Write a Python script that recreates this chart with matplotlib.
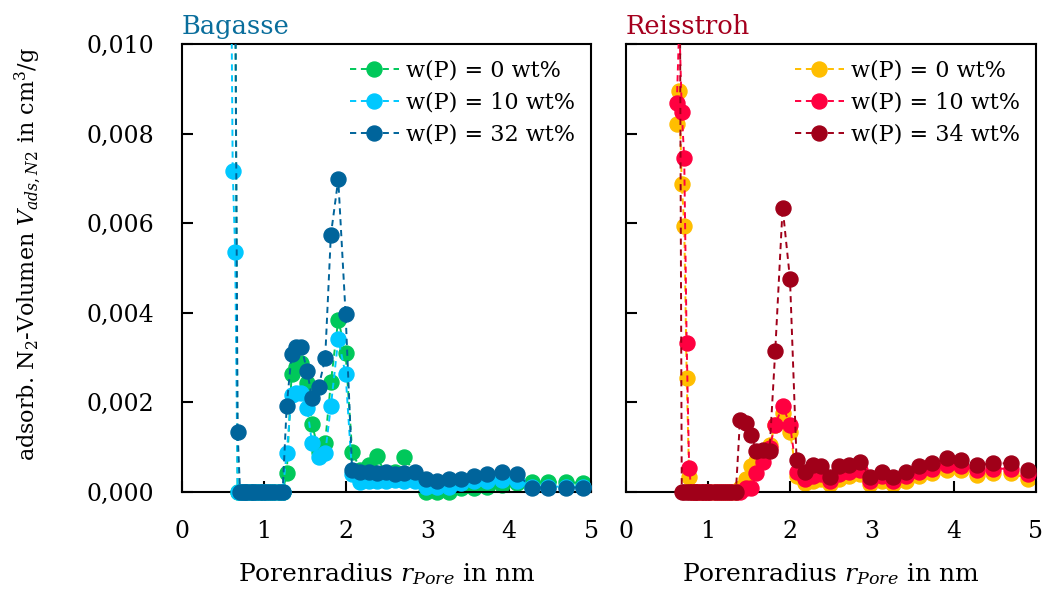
import numpy as np
import matplotlib
matplotlib.use("Agg")
import matplotlib.pyplot as plt
from matplotlib.ticker import FuncFormatter, MultipleLocator
from matplotlib.lines import Line2D

plt.rcParams['font.family'] = ['DejaVu Serif']
plt.rcParams['mathtext.fontset'] = 'dejavuserif'

# pore radius grid (nm)
r_pore = [0.60, 0.62, 0.65, 0.68, 0.71, 0.74, 0.77, 0.80, 0.84, 0.87,
          0.91, 0.95, 0.99, 1.03, 1.08, 1.13, 1.18, 1.23, 1.28, 1.34,
          1.39, 1.46, 1.53, 1.59, 1.67, 1.75, 1.82, 1.91, 2.00, 2.08,
          2.18, 2.28, 2.38, 2.49, 2.60, 2.72, 2.85, 2.98, 3.12, 3.26,
          3.41, 3.57, 3.73, 3.91, 4.09, 4.28, 4.48, 4.69, 4.90, 5.12]

# Bagasse
bag_0 = [None, None, 0.0120, 0, 0, 0, 0, 0, 0, 0,
         0, 0, 0, 0, 0, 0, 0, 0, 0.00042, 0.00263,
         0.00280, 0.00287, 0.00243, 0.00152, 0.00090, 0.00110, 0.00245, 0.00385, 0.00311, 0.00090,
         0.00050, 0.00060, 0.00080, 0.00040, 0.00045, 0.00078, 0.00040, 0.0, 0.0, 0.0,
         0.00010, 0.00010, 0.00012, 0.00015, 0.00020, 0.00022, 0.00022, 0.00022, 0.00020, 0.00020]
bag_10 = [0.0120, 0.00717, 0.00536, 0, 0, 0, 0, 0, 0, 0,
          0, 0, 0, 0, 0, 0, 0, 0, 0.00088, 0.00217,
          0.00220, 0.00220, 0.00187, 0.00109, 0.00079, 0.00086, 0.00192, 0.00341, 0.00263, 0.00040,
          0.00023, 0.00025, 0.00025, 0.00025, 0.00027, 0.00025, 0.00025, 0.00012, 0.00012, 0.00012,
          0.00020, 0.00025, 0.00025, 0.00027, 0.00025, 0.00012, 0.00012, 0.00012, 0.00012, 0.00012]
bag_32 = [None, None, 0.0120, 0.00134, 0, 0, 0, 0, 0, 0,
          0, 0, 0, 0, 0, 0, 0, 0, 0.00192, 0.00308,
          0.00323, 0.00323, 0.00270, 0.00209, 0.00234, 0.00298, 0.00574, 0.00698, 0.00397, 0.00049,
          0.00045, 0.00045, 0.00042, 0.00045, 0.00040, 0.00042, 0.00045, 0.00030, 0.00025, 0.00028,
          0.00030, 0.00035, 0.00040, 0.00045, 0.00040, 0.00010, 0.00010, 0.00010, 0.00010, 0.00010]

# Reisstroh
rs_0 = [None, 0.00821, 0.00896, 0.00688, 0.00594, 0.00255, 0.00034, 0, 0, 0,
        0, 0, 0, 0, 0, 0, 0, 0, 0, 0,
        0.00010, 0.00030, 0.00057, 0.00070, 0.00080, 0.00105, 0.00150, 0.00176, 0.00135, 0.00035,
        0.00020, 0.00025, 0.00030, 0.00018, 0.00030, 0.00035, 0.00040, 0.00018, 0.00025, 0.00018,
        0.00025, 0.00035, 0.00042, 0.00050, 0.00048, 0.00038, 0.00042, 0.00042, 0.00030, 0.00030]
rs_10 = [None, 0.00868, 0.0105, 0.00849, 0.00745, 0.00332, 0.00053, 0, 0, 0,
         0, 0, 0, 0, 0, 0, 0, 0, 0, 0,
         0, 0.00010, 0.00010, 0.00043, 0.00068, 0.00098, 0.00150, 0.00193, 0.00150, 0.00045,
         0.00030, 0.00035, 0.00040, 0.00025, 0.00040, 0.00045, 0.00050, 0.00025, 0.00035, 0.00025,
         0.00035, 0.00045, 0.00052, 0.00060, 0.00058, 0.00048, 0.00052, 0.00052, 0.00040, 0.00040]
rs_34 = [None, None, 0.0150, 0, 0, 0, 0, 0, 0, 0,
         0, 0, 0, 0, 0, 0, 0, 0, 0, 0,
         0.00161, 0.00155, 0.00127, 0.00092, 0.00094, 0.00092, 0.00315, 0.00635, 0.00475, 0.00072,
         0.00045, 0.00060, 0.00057, 0.00034, 0.00057, 0.00060, 0.00068, 0.00034, 0.00045, 0.00034,
         0.00045, 0.00057, 0.00064, 0.00075, 0.00071, 0.00060, 0.00064, 0.00064, 0.00048, 0.00050]

labels_bag = ["w(P) = 0 wt%", "w(P) = 10 wt%", "w(P) = 32 wt%"]
labels_rs = ["w(P) = 0 wt%", "w(P) = 10 wt%", "w(P) = 34 wt%"]
colors_bag = ["#00c85a", "#00c8ff", "#00649b"]
colors_rs = ["#ffbe00", "#ff0040", "#a00019"]

fig = plt.figure(figsize=(10.47, 5.93), dpi=100)
ax1 = fig.add_axes([182/1047, 1-492/593, 409/1047, 448/593])
ax2 = fig.add_axes([626/1047, 1-492/593, 410/1047, 448/593])

DASH = (0, (3.2, 2.4))
MS = 10.8


def draw(ax, y, color, z):
    x = np.asarray(r_pore, dtype=float)
    y = np.array([np.nan if v is None else v for v in y], dtype=float)
    ax.plot(x, y, ls=DASH, color=color, lw=1.4, zorder=z)
    m = (~np.isnan(y)) & (y <= 0.0101) & (x <= 5.0)
    ax.plot(x[m], y[m], ls='none', marker='o', ms=MS, color=color,
            clip_on=False, zorder=z + 0.5)


for i, (ys, c) in enumerate(zip([bag_0, bag_10, bag_32], colors_bag)):
    draw(ax1, ys, c, 2 + i)
for i, (ys, c) in enumerate(zip([rs_0, rs_10, rs_34], colors_rs)):
    draw(ax2, ys, c, 2 + i)

fmt = FuncFormatter(lambda v, p: f"{v:.3f}".replace('.', ','))
for ax in (ax1, ax2):
    ax.set_xlim(0, 5)
    ax.set_ylim(0, 0.010)
    ax.xaxis.set_major_locator(MultipleLocator(1))
    ax.yaxis.set_major_locator(MultipleLocator(0.002))
    ax.tick_params(direction='in', length=8, width=1.5, labelsize=17, pad=20,
                   top=False, right=False)
    for s in ax.spines.values():
        s.set_linewidth(1.5)
    ax.set_xlabel(r"Porenradius $r_{Pore}$ in nm", fontsize=18, labelpad=13)

ax1.yaxis.set_major_formatter(fmt)
ax2.yaxis.set_major_formatter(FuncFormatter(lambda v, p: ""))
ax1.set_ylabel(r"adsorb. N$_2$-Volumen $V_{ads,N2}$ in cm$^3$/g", fontsize=16)
ax1.yaxis.set_label_coords((44 - 182) / 409, (492 - 254) / 448)

ax1.set_title("Bagasse", loc='left', color="#0a6e9c", fontsize=18.5, pad=7)
ax2.set_title("Reisstroh", loc='left', color="#a5001e", fontsize=18.5, pad=7)


def legend(ax, labels, colors):
    handles = [Line2D([0], [0], ls=DASH, lw=1.4, color=c, marker='o', ms=MS) for c in colors]
    ax.legend(handles, labels, loc='upper right', frameon=False, fontsize=16,
              handlelength=2.2, handletextpad=0.35, labelspacing=0.45,
              borderaxespad=0.3, borderpad=0.4, numpoints=1)


legend(ax1, labels_bag, colors_bag)
legend(ax2, labels_rs, colors_rs)

fig.savefig("out.png", dpi=100)
